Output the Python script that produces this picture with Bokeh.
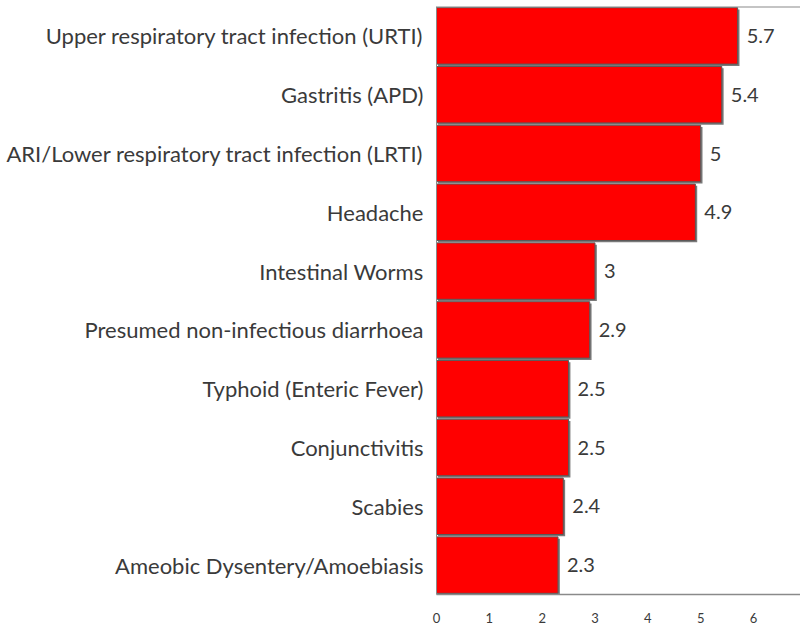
from bokeh.plotting import figure
from bokeh.models import ColumnDataSource, Range1d, FactorRange, Span
from bokeh.transform import dodge
from bokeh.embed import file_html
from bokeh.resources import INLINE
from bokeh.core.properties import value

categories = [
    "Upper respiratory tract infection (URTI)",
    "Gastritis (APD)",
    "ARI/Lower respiratory tract infection (LRTI)",
    "Headache",
    "Intestinal Worms",
    "Presumed non-infectious diarrhoea",
    "Typhoid (Enteric Fever)",
    "Conjunctivitis",
    "Scabies",
    "Ameobic Dysentery/Amoebiasis",
]
values = [5.7, 5.4, 5.0, 4.9, 3.0, 2.9, 2.5, 2.5, 2.4, 2.3]
labels = ["5.7", "5.4", "5", "4.9", "3", "2.9", "2.5", "2.5", "2.4", "2.3"]
x_ticks = [0, 1, 2, 3, 4, 5, 6]

FONT = "Lato"
TXT = "#3a3a3a"
AXIS = "#8a8a8a"

src = ColumnDataSource(dict(
    cat=categories,
    val=values,
    lab=labels,
    shadow_right=[v + 0.035 for v in values],
))

p = figure(
    width=800, height=625,
    y_range=FactorRange(factors=list(reversed(categories)), range_padding=0),
    x_range=Range1d(0, 6.89),
    output_backend="svg", toolbar_location=None,
    min_border_left=436, min_border_right=0, min_border_top=6, min_border_bottom=27,
)
p.outline_line_color = None
p.outline_line_alpha = 0
p.grid.grid_line_color = None

# shadow
p.hbar(y=dodge("cat", -0.03, range=p.y_range), left=0.03, right="shadow_right",
       height=0.96, source=src, fill_color="#7a7a7a", line_color=None)
# bars
p.hbar(y="cat", left=0, right="val", height=0.96, source=src,
       fill_color="#ff0000", line_color="#5a5a5a", line_width=1)

p.text(x="val", y="cat", text="lab", source=src, x_offset=9,
       text_align="left", text_baseline="middle",
       text_font=value(FONT), text_font_size="20px", text_color=TXT)

# top frame line
p.add_layout(Span(location=10, dimension="width", line_color=AXIS, line_width=2))

p.xaxis.ticker = x_ticks
p.xaxis.major_tick_line_color = None
p.xaxis.minor_tick_line_color = None
p.xaxis.axis_line_color = AXIS
p.xaxis.axis_line_width = 1.5
p.xaxis.major_label_text_font = FONT
p.xaxis.major_label_text_font_size = "13px"
p.xaxis.major_label_text_color = TXT
p.xaxis.major_label_standoff = 12

p.yaxis.major_tick_line_color = None
p.yaxis.minor_tick_line_color = None
p.yaxis.axis_line_color = AXIS
p.yaxis.major_label_text_font = FONT
p.yaxis.major_label_text_font_size = "22px"
p.yaxis.major_label_text_color = TXT
p.yaxis.major_label_standoff = 7

open("out.html", "w").write(file_html(p, INLINE))
